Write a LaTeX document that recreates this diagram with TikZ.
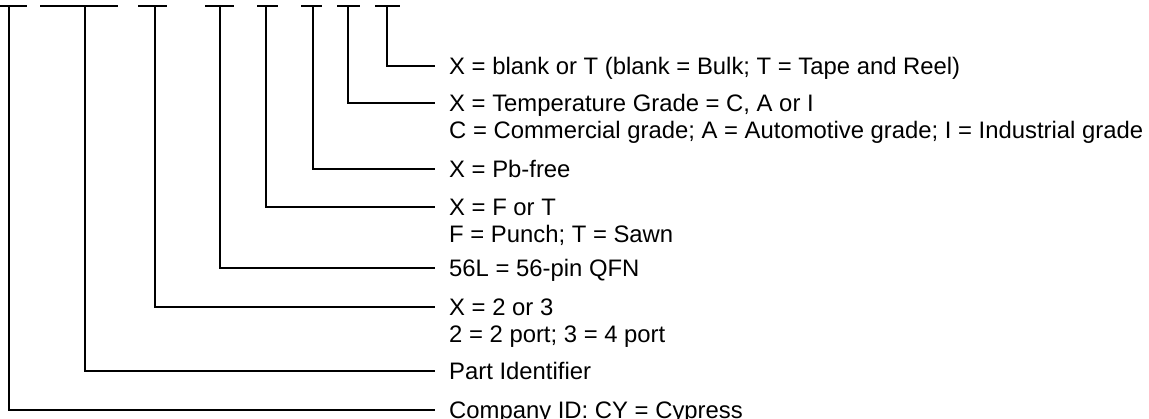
\documentclass[tikz,border=0pt]{standalone}
\usepackage{fontspec}
\setmainfont{Liberation Sans}
\usetikzlibrary{positioning}
\tikzset{
	lead/.style={draw, line width=2pt},
	field/.style={
		anchor=base west,
		align=left,
		inner sep=0pt,
		yshift=-8.5pt,
		font=\fontsize{23.85}{27}\selectfont},
	% base of a two-line node is its second line
	field2/.style={field, yshift=-27pt},
}

\begin{document}
\begin{tikzpicture}[x=1pt, y=-1pt]
	\useasboundingbox (0,0) rectangle (1149,419);
	% field bars of the part number
	\draw[lead] (0,6) -- (27,6);
	\draw[lead] (40,6) -- (118,6);
	\draw[lead] (138,6) -- (167,6);
	\draw[lead] (205,6) -- (234,6);
	\draw[lead] (257,6) -- (278,6);
	\draw[lead] (301,6) -- (322,6);
	\draw[lead] (337,6) -- (360,6);
	\draw[lead] (375,6) -- (400,6);
	% tops of the leads
	\coordinate (fcompany) at (9,6);
	\coordinate (fpartid) at (85,6);
	\coordinate (fports) at (155,6);
	\coordinate (fpkg) at (220,6);
	\coordinate (fdie) at (266,6);
	\coordinate (fpbfree) at (313,6);
	\coordinate (fgrade) at (348,6);
	\coordinate (freel) at (387,6);
	% ends of the leads
	\coordinate (ecompany) at (435,410);
	\coordinate (epartid) at (435,371);
	\coordinate (eports) at (435,307);
	\coordinate (epkg) at (435,268);
	\coordinate (edie) at (435,207);
	\coordinate (epbfree) at (435,169);
	\coordinate (egrade) at (435,103);
	\coordinate (ereel) at (435,66);
	% descriptions
	\node[right=14pt of ereel, field] (reel) {X = blank or T (blank = Bulk; T = Tape and Reel)};
	\node[right=14pt of egrade, field2] (grade) {X = Temperature Grade = C, A or I\\C = Commercial grade; A = Automotive grade; I = Industrial grade};
	\node[right=14pt of epbfree, field] (pbfree) {X = Pb-free};
	\node[right=14pt of edie, field2] (die) {X = F or T\\F = Punch; T = Sawn};
	\node[right=14pt of epkg, field] (pkg) {56L = 56-pin QFN};
	\node[right=14pt of eports, field2] (ports) {X = 2 or 3\\2 = 2 port; 3 = 4 port};
	\node[right=14pt of epartid, field] (partid) {Part Identifier};
	\node[right=14pt of ecompany, field] (company) {Company ID: CY = Cypress};
	% leads
	\draw[lead] (fcompany) |- (ecompany);
	\draw[lead] (fpartid) |- (epartid);
	\draw[lead] (fports) |- (eports);
	\draw[lead] (fpkg) |- (epkg);
	\draw[lead] (fdie) |- (edie);
	\draw[lead] (fpbfree) |- (epbfree);
	\draw[lead] (fgrade) |- (egrade);
	\draw[lead] (freel) |- (ereel);
\end{tikzpicture}
\end{document}
